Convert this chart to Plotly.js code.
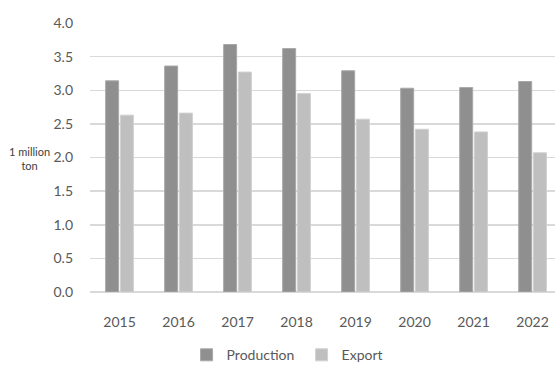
<!DOCTYPE html>
<html>
<head>
<meta charset="utf-8">
<script src="https://cdn.plot.ly/plotly-3.0.1.min.js"></script>
<style>html,body{margin:0;padding:0;background:#fff;}#chart{width:555px;height:369px;}</style>
</head>
<body>
<div id="chart"></div>
<script>
const years = ['2015','2016','2017','2018','2019','2020','2021','2022'];
const production = [3.14, 3.36, 3.68, 3.62, 3.29, 3.03, 3.04, 3.13];
const exportVals = [2.63, 2.66, 3.27, 2.95, 2.57, 2.42, 2.38, 2.07];
const yTicks = [0, 0.5, 1, 1.5, 2, 2.5, 3, 3.5, 4];

const FONT = 'Lato, "Open Sans", sans-serif';

const traces = [
  {type:'bar', name:'Production', x: years, y: production,
   marker:{color:'#8f8f8f', line:{color:'#a8a8a8', width:1}}},
  {type:'bar', name:'Export', x: years, y: exportVals,
   marker:{color:'#bfbfbf', line:{color:'#d0d0d0', width:1}}}
];

const layout = {
  width:555, height:369,
  margin:{l:90, r:0, t:23, b:77, autoexpand:false},
  paper_bgcolor:'#fff', plot_bgcolor:'#fff',
  font:{family:FONT, color:'#595959', size:14},
  barmode:'group', bargap:0.5, bargroupgap:0.12,
  showlegend:true,
  legend:{orientation:'h', x:0.455, xanchor:'center', y:-0.235, yanchor:'middle',
          font:{size:14, color:'#595959'}, itemwidth:30, tracegroupgap:0, entrywidth:70},
  xaxis:{type:'category', range:[-0.5, 7.38], showgrid:false, showline:false,
         ticks:'', ticklabelstandoff:20, tickfont:{size:14, color:'#595959'}},
  yaxis:{range:[0,4], tickvals:yTicks, tickformat:'.1f', gridcolor:'#d9d9d9', gridwidth:1.5,
         zeroline:true, zerolinecolor:'#d9d9d9', zerolinewidth:1.5, showline:false,
         ticks:'', ticklabelstandoff:16, tickfont:{size:14, color:'#595959'}},
  annotations:[{text:'1 million<br>ton', xref:'paper', yref:'paper', x:-0.131, y:0.495,
                xanchor:'center', yanchor:'middle', showarrow:false,
                font:{size:11, color:'#404040', family:FONT}}]
};

Plotly.newPlot('chart', traces, layout, {displayModeBar:false, staticPlot:true});
</script>
</body>
</html>
